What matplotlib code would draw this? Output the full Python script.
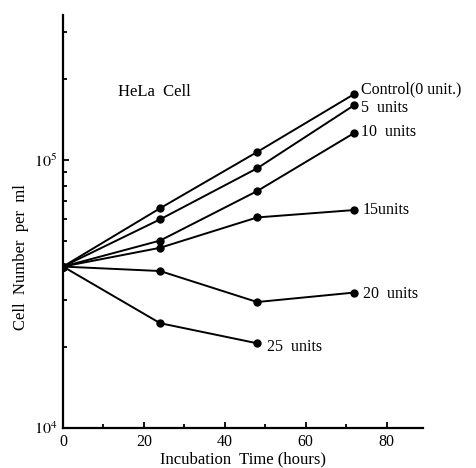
import numpy as np
import matplotlib
matplotlib.use('Agg')
import matplotlib.pyplot as plt
from matplotlib.ticker import FixedLocator, LogLocator, NullFormatter

plt.rcParams['font.family'] = ['Liberation Serif', 'DejaVu Serif']
plt.rcParams['mathtext.fontset'] = 'stix'

# incubation time (hours) and cell counts per ml
hours = [0, 24, 48, 72]
control = [40000, 66000, 107000, 176000]
units_5 = [40000, 60000, 93000, 160000]
units_10 = [40000, 50000, 76500, 126000]
units_15 = [40000, 47000, 61000, 65000]
units_20 = [40000, 38500, 29500, 32000]
units_25 = [40000, 24600, 20700]

series = [
    (control, 'Control(0 unit.)', (5, 3)),
    (units_5, '5  units', (5, -2)),
    (units_10, '10  units', (5, 1)),
    (units_15, '15units', (6, 0)),
    (units_20, '20  units', (6, -1)),
    (units_25, '25  units', (7, -3)),
]

fig = plt.figure(figsize=(4.76, 4.68), dpi=100)
ax = fig.add_axes([63 / 476, 40 / 468, 360 / 476, 413 / 468])

for vals, lab, off in series:
    xs = hours[:len(vals)]
    ax.plot(xs, vals, color='black', lw=1.4, marker='o', ms=5, mfc='black', mec='black')
    ax.annotate(lab, (xs[-1], vals[-1]), xytext=off, textcoords='offset points',
                ha='left', va='center', fontsize=11.5)

ax.set_yscale('log')
ax.set_xlim(0, 89)
ax.set_ylim(1e4, 3.47e5)

ax.xaxis.set_major_locator(FixedLocator([0, 20, 40, 60, 80]))
ax.xaxis.set_minor_locator(FixedLocator([10, 30, 50, 70]))
ax.yaxis.set_major_locator(FixedLocator([1e4, 1e5]))
ax.yaxis.set_minor_locator(LogLocator(base=10, subs=np.arange(2, 10)))
ax.yaxis.set_minor_formatter(NullFormatter())
ax.set_yticklabels([r'$10^{4}$', r'$10^{5}$'])

for s in ['top', 'right']:
    ax.spines[s].set_visible(False)
for s in ['left', 'bottom']:
    ax.spines[s].set_linewidth(1.6)

ax.tick_params(which='both', direction='in', width=1.3, labelsize=11.5)
ax.tick_params(which='major', length=4, pad=4)
ax.tick_params(which='minor', length=3)

ax.text(0.255, 0.813, 'HeLa  Cell', transform=ax.transAxes, ha='center', va='center', fontsize=12)
ax.set_xlabel('Incubation  Time (hours)', fontsize=12, labelpad=1)
fig.text(21 / 476, 1 - 257 / 468, 'Cell  Number  per  ml', rotation=90,
         ha='center', va='center', fontsize=12)

fig.savefig('out.png', dpi=100)
